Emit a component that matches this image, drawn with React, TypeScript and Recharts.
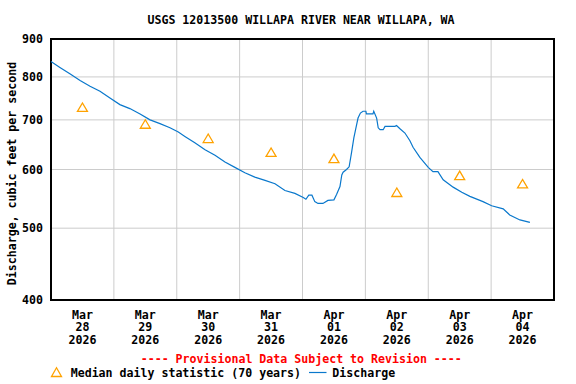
import React from 'react';
import {
  ComposedChart,
  Line,
  Scatter,
  XAxis,
  YAxis,
  CartesianGrid,
  ReferenceArea,
} from 'recharts';

const dischargeHours = [
  0, 3.4, 7.2, 11.1, 14.9, 18.7, 22.5, 26.3, 30.1, 34.0, 37.8, 41.6, 45.4, 48.6,
  51.1, 54.9, 58.8, 62.6, 66.4, 70.2, 74.0, 77.8, 81.7, 85.5, 89.3, 93.1, 96.3,
  97.3, 98.4, 99.6, 100.7, 101.9, 103.8, 105.7, 108.0, 109.0, 110.3, 111.0, 111.5,
  112.8, 113.8, 114.7, 115.6, 116.4, 117.2, 118.1, 119.1, 120.2, 120.4, 122.9,
  123.2, 124.3, 124.9, 125.6, 126.8, 127.5, 131.3, 131.9, 133.2, 135.1, 137.0,
  138.2, 140.8, 144.0, 145.8, 147.7, 149.7, 153.5, 156.8, 159.9, 164.9, 168.2,
  172.6, 175.1, 179.0, 182.8,
];
const dischargeValues = [
  839, 824, 808, 791, 777, 765, 749, 734, 725, 713, 700, 692, 683, 674,
  665, 652, 638, 627, 614, 604, 594, 586, 580, 574, 562, 557, 550,
  547, 554, 554, 543, 540, 540, 545, 546, 555, 569, 590, 595,
  600, 605, 632, 662, 683, 704, 715, 719, 719, 713, 713,
  719, 704, 683, 679, 679, 686, 686, 688, 681, 672, 656,
  643, 623, 604, 596, 596, 581, 568, 559, 552, 543, 536,
  531, 521, 513, 509,
];

// median daily statistic, plotted at noon of each day
const medianHours = [12, 36, 60, 84, 108, 132, 156, 180];
const medianValues = [728, 691, 661, 633, 621, 559, 589, 574];

const tickMonths = ['Mar', 'Mar', 'Mar', 'Mar', 'Apr', 'Apr', 'Apr', 'Apr'];
const tickDays = ['28', '29', '30', '31', '01', '02', '03', '04'];
const tickYear = '2026';
const dayGridHours = [24, 48, 72, 96, 120, 144, 168];
const yTicks = [400, 500, 600, 700, 800, 900];

const dischargeData = dischargeHours.map((h, i) => ({ h, v: dischargeValues[i] }));
const medianData = medianHours.map((h, i) => ({ h, v: medianValues[i] }));

const FONT = '"DejaVu Sans Mono", monospace';
const BLUE = '#0a78cc';
const ORANGE = '#ffa200';

const DayTick = (props: any) => {
  const { x, y, payload } = props;
  const i = medianHours.indexOf(payload.value);
  return (
    <text x={x} textAnchor="middle" fontFamily={FONT} fontWeight="bold" fontSize={11.6} fill="#000">
      <tspan x={x} y={y + 10.5}>{tickMonths[i]}</tspan>
      <tspan x={x} y={y + 23.2}>{tickDays[i]}</tspan>
      <tspan x={x} y={y + 35.9}>{tickYear}</tspan>
    </text>
  );
};

const Triangle = (props: any) => {
  const { cx, cy } = props;
  if (cx == null || cy == null) return null;
  return (
    <polygon
      points={`${cx},${cy - 4.3} ${cx - 5},${cy + 4.2} ${cx + 5},${cy + 4.2}`}
      fill="none"
      stroke={ORANGE}
      strokeWidth={1.3}
    />
  );
};

export default function App() {
  return (
    <div style={{ position: 'absolute', left: 0, top: 0, width: 576, height: 384, background: '#fff' }}>
      <ComposedChart
        width={576}
        height={384}
        margin={{ top: 39, right: 22, bottom: 34, left: 0 }}
      >
        <CartesianGrid
          stroke="#cccccc"
          verticalCoordinatesGenerator={(p: any) => {
            const { xAxis, offset } = p;
            if (xAxis && typeof xAxis.scale === 'function') {
              return dayGridHours.map(h => xAxis.scale(h));
            }
            return dayGridHours.map(h => offset.left + (h / 192) * offset.width);
          }}
        />
        <XAxis
          dataKey="h"
          type="number"
          domain={[0, 192]}
          ticks={medianHours}
          interval={0}
          height={50}
          axisLine={false}
          tickLine={false}
          tick={<DayTick />}
        />
        <YAxis
          type="number"
          scale="log"
          domain={[400, 900]}
          allowDataOverflow
          ticks={yTicks}
          interval={0}
          width={51}
          axisLine={false}
          tickLine={false}
          tick={{ fill: '#000', fontFamily: FONT, fontWeight: 'bold', fontSize: 11.6 }}
        />
        <Line
          data={dischargeData}
          dataKey="v"
          type="linear"
          stroke={BLUE}
          strokeWidth={1.2}
          dot={false}
          isAnimationActive={false}
        />
        <Scatter
          data={medianData}
          dataKey="v"
          shape={<Triangle />}
          isAnimationActive={false}
        />
        <ReferenceArea
          x1={0}
          x2={192}
          y1={400}
          y2={900}
          fill="none"
          fillOpacity={0}
          stroke="#000"
          strokeWidth={2}
          ifOverflow="visible"
        />
      </ComposedChart>

      <svg
        width={576}
        height={384}
        style={{ position: 'absolute', left: 0, top: 0, pointerEvents: 'none' }}
        fontFamily={FONT}
        fontWeight="bold"
        fontSize={11.6}
      >
        <text x={301} y={24} textAnchor="middle" fill="#000">
          USGS 12013500 WILLAPA RIVER NEAR WILLAPA, WA
        </text>
        <text
          transform="translate(15.5,173.5) rotate(-90)"
          textAnchor="middle"
          fill="#000"
        >
          Discharge, cubic feet per second
        </text>
        <text x={140.7} y={362.5} fill="#ff0000">
          ---- Provisional Data Subject to Revision ----
        </text>
        <polygon points="56.5,367.8 51.5,376.5 61.5,376.5" fill="none" stroke={ORANGE} strokeWidth={1.3} />
        <text x={70.7} y={376.8} fill="#000">
          Median daily statistic (70 years)
        </text>
        <line x1={309} y1={372.5} x2={326.5} y2={372.5} stroke={BLUE} strokeWidth={1.2} />
        <text x={332.3} y={376.8} fill="#000">
          Discharge
        </text>
      </svg>
    </div>
  );
}
